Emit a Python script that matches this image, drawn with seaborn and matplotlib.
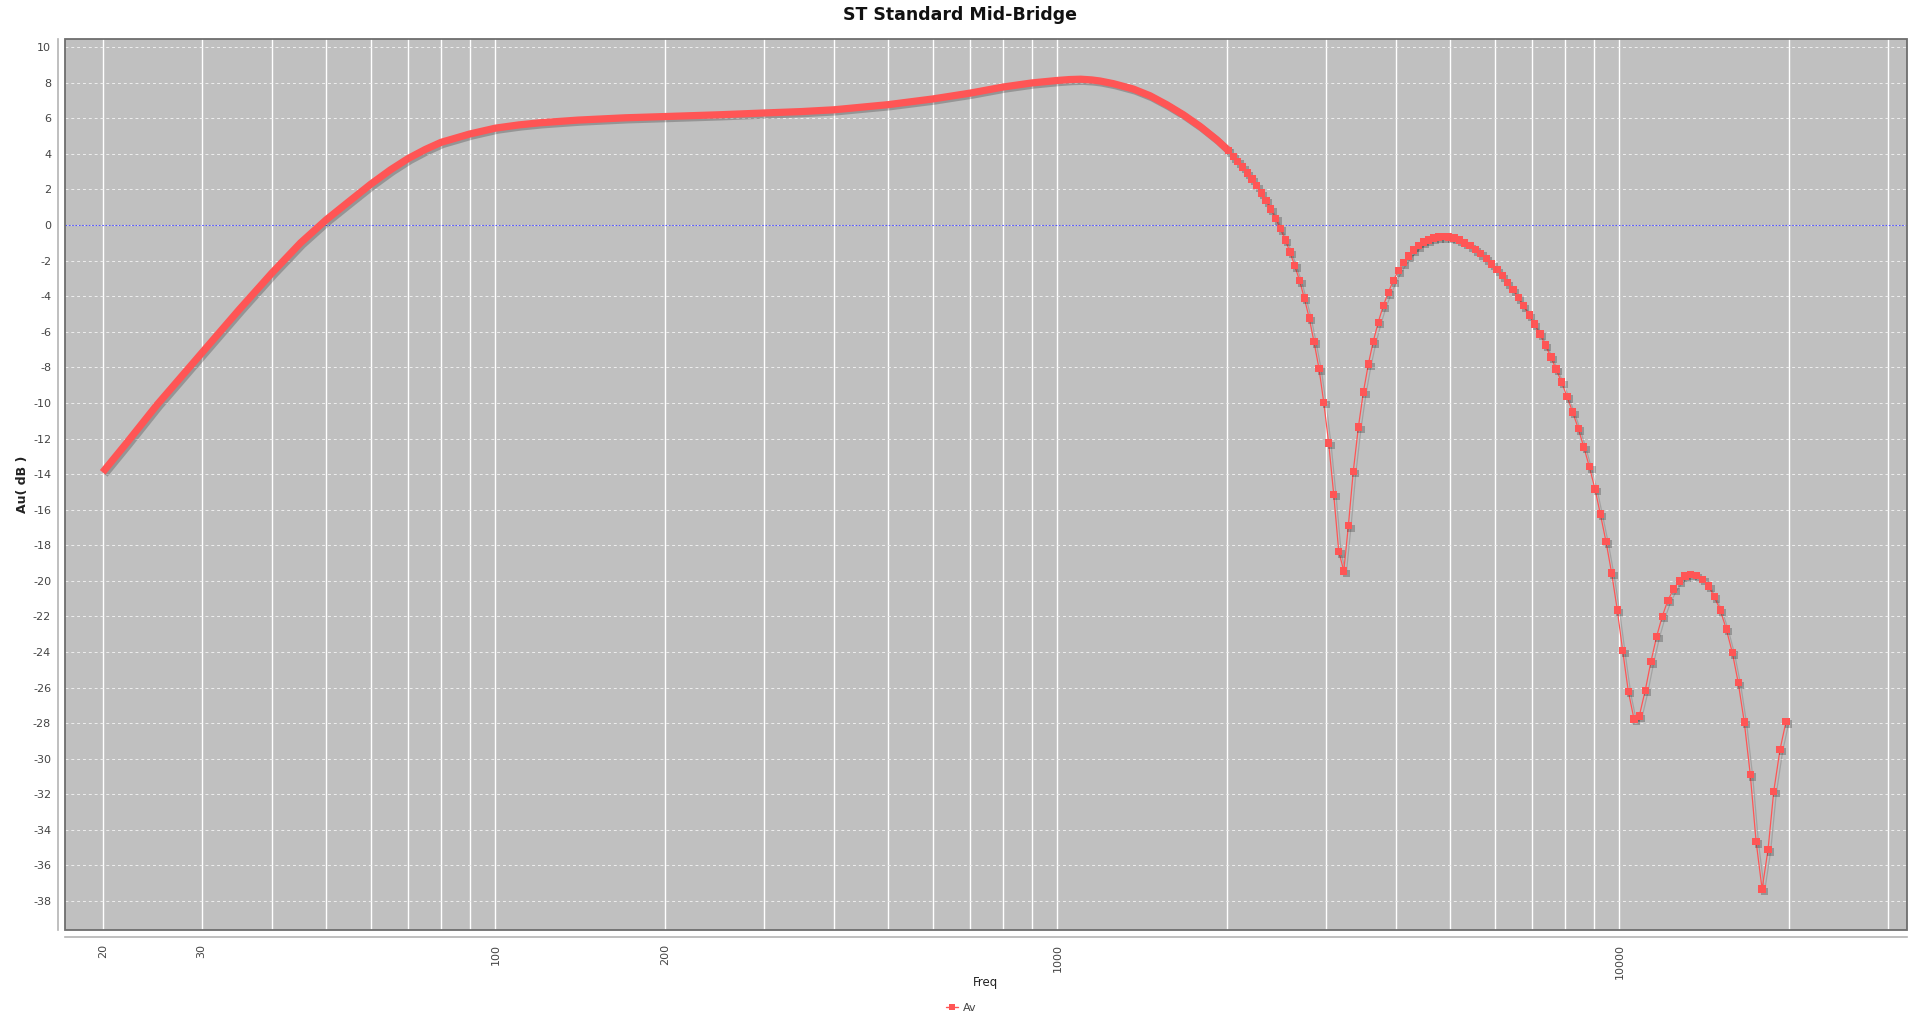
import matplotlib
matplotlib.use('Agg')
import matplotlib.pyplot as plt
import matplotlib.patheffects as pe
from matplotlib.ticker import FixedLocator, FuncFormatter, NullLocator
from matplotlib.lines import Line2D
from matplotlib.patches import Rectangle
import seaborn as sns

# Dense part of the sweep (20 Hz - 2 kHz): points overlap into a solid band
band_freq = [20, 22, 25, 30, 35, 40, 45, 50, 55, 60, 65, 70, 75, 80, 90, 100,
             110, 120, 140, 170, 200, 250, 300, 350, 400, 500, 600, 700, 800,
             900, 1000, 1050, 1100, 1150, 1190, 1257, 1364, 1461, 1564, 1675,
             1793, 1920, 2013]
band_db = [-13.9, -12.3, -10.1, -7.2, -4.75, -2.7, -1.0, 0.3, 1.35, 2.3,
           3.1, 3.75, 4.25, 4.65, 5.12, 5.45, 5.63, 5.75, 5.9, 6.03, 6.1, 6.2,
           6.3, 6.38, 6.48, 6.77, 7.09, 7.42, 7.76, 7.99, 8.13, 8.18, 8.2, 8.16,
           8.1, 7.95, 7.65, 7.27, 6.77, 6.2, 5.55, 4.8, 4.2]

# Sparse part of the sweep (2 kHz - 20 kHz): individual points visible
freq = [2013, 2055, 2093, 2136, 2176, 2219, 2262, 2305, 2350, 2395, 2445, 2491,
        2543, 2592, 2642, 2697, 2749, 2805, 2860, 2920, 2977, 3038,
        3101, 3166, 3232, 3293, 3360, 3431, 3502, 3574, 3646, 3722, 3799, 3878,
        3958, 4041, 4124, 4210, 4297, 4385, 4476, 4569, 4663, 4760, 4859,
        4967, 5076, 5187, 5304, 5420, 5539, 5662, 5794, 5924, 6053, 6187, 6316,
        6464, 6606, 6743, 6911, 7054, 7220, 7379, 7552, 7709, 7890, 8064, 8254,
        8446, 8638, 8839, 9044, 9245, 9462, 9685,
        9911, 10132, 10368, 10613, 10845, 11115, 11376, 11646, 11917, 12197,
        12484, 12774, 13075, 13386, 13698, 14060, 14411, 14747, 15114, 15488,
        15874, 16269, 16674, 17088, 17502, 17938, 18381, 18816, 19308, 19789]
av_db = [4.20, 3.86, 3.58, 3.26, 2.92, 2.59, 2.21, 1.80, 1.38, 0.90, 0.37, -0.19,
         -0.83, -1.52, -2.27, -3.13, -4.11, -5.23, -6.55, -8.08, -9.96, -12.26,
         -15.13, -18.36, -19.44, -16.90, -13.84, -11.36, -9.39, -7.82, -6.55,
         -5.46, -4.54, -3.79, -3.13, -2.57, -2.12, -1.74, -1.41, -1.16, -0.96,
         -0.83, -0.73, -0.67, -0.66,
         -0.67, -0.73, -0.84, -1.00, -1.16, -1.37, -1.60, -1.88, -2.18, -2.51,
         -2.85, -3.24, -3.64, -4.09, -4.54, -5.05, -5.57, -6.13, -6.75, -7.42,
         -8.10, -8.83, -9.64, -10.51, -11.44, -12.47, -13.59, -14.83, -16.24,
         -17.79, -19.57,
         -21.64, -23.93, -26.21, -27.77, -27.60, -26.15, -24.54, -23.12, -21.99,
         -21.09, -20.46, -20.01, -19.72, -19.63, -19.69, -19.91, -20.30, -20.89,
         -21.65, -22.71, -24.02, -25.73, -27.94, -30.88, -34.65, -37.33, -35.10,
         -31.83, -29.47, -27.90]

grid_freqs = [20, 30, 40, 50, 60, 70, 80, 90, 100, 200, 300, 400, 500, 600, 700,
              800, 900, 1000, 2000, 3000, 4000, 5000, 6000, 7000, 8000, 9000,
              10000, 20000, 30000]
labeled_freqs = [20, 30, 100, 200, 1000, 10000]
y_ticks = list(range(-38, 11, 2))

RED = '#ff5555'

sns.set_style('white')
plt.rcParams['font.family'] = ['DejaVu Sans']

fig = plt.figure(figsize=(19.2, 10.21), dpi=100)
ax = fig.add_axes([65 / 1920, 1 - 930 / 1021, 1842 / 1920, 891 / 1021])
ax.set_facecolor('#c0c0c0')

ax.set_xscale('log')
ax.set_xlim(17.14, 32480)
ax.set_ylim(-39.63, 10.46)

# grid
ax.xaxis.set_major_locator(FixedLocator(grid_freqs))
ax.xaxis.set_minor_locator(NullLocator())
ax.xaxis.set_major_formatter(FuncFormatter(
    lambda v, p: str(int(round(v))) if int(round(v)) in labeled_freqs else ''))
ax.set_yticks(y_ticks)
ax.yaxis.set_major_formatter(FuncFormatter(lambda v, p: f'{int(v)}'))
ax.grid(axis='x', color='white', lw=1.0, ls='-')
ax.grid(axis='y', color='#eeeeee', lw=0.7, ls=(0, (3, 3)))
ax.set_axisbelow(True)
ax.axhline(0, color='#5555ff', lw=0.8, ls=(0, (1.5, 1.5)), zorder=1.5)

# series
sns.lineplot(x=band_freq, y=band_db, ax=ax, color=RED, linewidth=5.2,
             estimator=None, sort=False, solid_capstyle='butt',
             solid_joinstyle='round',
             path_effects=[pe.SimpleLineShadow(offset=(1.5, -1.5), alpha=0.22), pe.Normal()],
             zorder=3)
sns.lineplot(x=freq, y=av_db, ax=ax, color=RED, linewidth=0.9,
             estimator=None, sort=False,
             path_effects=[pe.SimpleLineShadow(offset=(1.8, -1.8), alpha=0.15), pe.Normal()],
             zorder=3)
sns.scatterplot(x=freq, y=av_db, ax=ax, color=RED, marker='s', s=28, linewidth=0,
                path_effects=[pe.SimplePatchShadow(offset=(1.8, -1.8), shadow_rgbFace='#000000',
                                                   alpha=0.22), pe.Normal()],
                zorder=4)

# axes frame / axis lines
for side in ['top', 'right']:
    ax.spines[side].set_visible(False)
for side in ['left', 'bottom']:
    ax.spines[side].set_position(('outward', 5))
    ax.spines[side].set_color('#b4b4b4')
    ax.spines[side].set_linewidth(1.2)
ax.add_patch(Rectangle((0, 0), 1, 1, transform=ax.transAxes, fill=False,
                       edgecolor='#6e6e6e', lw=1.3, zorder=6, clip_on=False))

ax.tick_params(axis='both', which='major', direction='out', length=3, width=0.8,
               color='#a0a0a0', labelcolor='#444444', labelsize=8)
ax.tick_params(axis='x', pad=2, labelrotation=90)
ax.tick_params(axis='y', pad=2)

ax.set_xlabel('Freq', fontsize=8.5, color='#222222')
ax.xaxis.set_label_coords(0.5, -0.052)
ax.set_ylabel('Au( dB )', fontsize=9, fontweight='bold', color='#222222')
ax.yaxis.set_label_coords(-0.0195, 0.5)

fig.text(0.5, 1 - 15 / 1021, 'ST Standard Mid-Bridge', ha='center', va='center',
         fontsize=12.5, fontweight='bold', color='#111111')

handle = Line2D([], [], color=RED, lw=1, marker='s', markersize=5, markeredgewidth=0)
fig.legend([handle], ['Av'], loc='center', bbox_to_anchor=(961 / 1920, 1 - 1008 / 1021),
           frameon=False, fontsize=8, handlelength=1.1, handletextpad=0.4,
           labelcolor='#444444')

fig.savefig('out.png', dpi=100)
plt.close(fig)
